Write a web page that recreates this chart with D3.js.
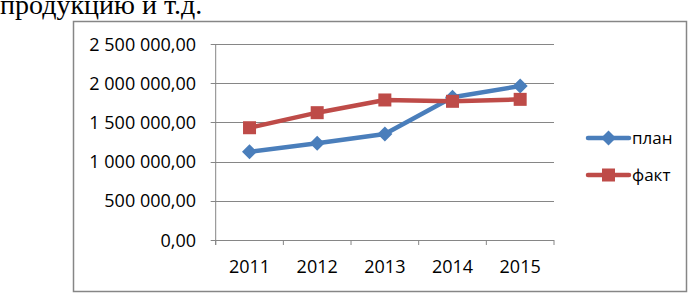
<!DOCTYPE html>
<html>
<head>
<meta charset="utf-8">
<script src="https://cdn.jsdelivr.net/npm/d3@7"></script>
<style>
  body { margin: 0; background: #fff; }
  svg { display: block; }
</style>
</head>
<body>
<div id="chart"></div>
<script>
const years = ["2011", "2012", "2013", "2014", "2015"];
const plan = [1126000, 1233000, 1352000, 1820000, 1964000];
const fact = [1432000, 1624000, 1786000, 1769000, 1794000];
const yTicks = [0, 500000, 1000000, 1500000, 2000000, 2500000];
const seriesNames = ["план", "факт"];

const W = 694, H = 293;
const plot = { left: 215.7, right: 554, top: 44, bottom: 240 };

const svg = d3.select("#chart").append("svg")
  .attr("width", W).attr("height", H);

// caption text above the chart (cut off at the top, like the scan)
svg.append("text")
  .attr("x", 0).attr("y", 14)
  .attr("font-family", "Liberation Serif, Times New Roman, serif")
  .attr("font-size", 28)
  .attr("fill", "#000")
  .text("продукцию и т.д.");

// chart frame
svg.append("rect")
  .attr("x", 73.5).attr("y", 21.5)
  .attr("width", 613).attr("height", 270)
  .attr("fill", "#fff")
  .attr("stroke", "#868686").attr("stroke-width", 1.5);

const x = d3.scaleBand(years, [plot.left, plot.right]);
const y = d3.scaleLinear([0, 2500000], [plot.bottom, plot.top]);

const fmt = (v) => {
  const s = d3.format(",.2f")(v);
  return s.replace(/,/g, " ").replace(".", ",");
};

// gridlines
svg.append("g")
  .selectAll("line")
  .data(yTicks)
  .join("line")
  .attr("x1", plot.left - 5).attr("x2", plot.right)
  .attr("y1", (d) => Math.round(y(d)) + 0.5)
  .attr("y2", (d) => Math.round(y(d)) + 0.5)
  .attr("stroke", "#868686").attr("stroke-width", 1);

// y axis line
svg.append("line")
  .attr("x1", plot.left).attr("x2", plot.left)
  .attr("y1", plot.top).attr("y2", plot.bottom + 5)
  .attr("stroke", "#868686");

// x axis ticks
const xTicks = years.map((d) => x(d)).concat([plot.right]);
svg.append("g")
  .selectAll("line")
  .data(xTicks)
  .join("line")
  .attr("x1", (d) => d).attr("x2", (d) => d)
  .attr("y1", plot.bottom).attr("y2", plot.bottom + 5)
  .attr("stroke", "#868686");

const font = "Open Sans, sans-serif";

svg.append("g")
  .selectAll("text")
  .data(yTicks)
  .join("text")
  .attr("x", 196)
  .attr("y", (d) => y(d) + 6.5)
  .attr("text-anchor", "end")
  .attr("font-family", font)
  .attr("font-size", 18)
  .attr("fill", "#000")
  .text(fmt);

svg.append("g")
  .selectAll("text")
  .data(years)
  .join("text")
  .attr("x", (d) => x(d) + x.bandwidth() / 2)
  .attr("y", 273)
  .attr("text-anchor", "middle")
  .attr("font-family", font)
  .attr("font-size", 18)
  .attr("fill", "#000")
  .text((d) => d);

const colors = ["#4A7EBB", "#BE4B48"];
const series = [plan, fact];
const line = d3.line()
  .x((d, i) => x(years[i]) + x.bandwidth() / 2)
  .y((d) => y(d));

function marker(g, type, cx, cy, color) {
  if (type === 0) {
    const r = 7.5;
    g.append("path")
      .attr("d", `M${cx},${cy - r}L${cx + r},${cy}L${cx},${cy + r}L${cx - r},${cy}Z`)
      .attr("fill", color);
  } else {
    const s = 13;
    g.append("rect")
      .attr("x", cx - s / 2).attr("y", cy - s / 2)
      .attr("width", s).attr("height", s)
      .attr("fill", color);
  }
}

series.forEach((vals, k) => {
  const g = svg.append("g");
  g.append("path")
    .datum(vals)
    .attr("d", line)
    .attr("fill", "none")
    .attr("stroke", colors[k])
    .attr("stroke-width", 4.5)
    .attr("stroke-linejoin", "round");
  vals.forEach((v, i) => marker(g, k, x(years[i]) + x.bandwidth() / 2, y(v), colors[k]));
});

// legend
const legendY = [138, 175];
seriesNames.forEach((name, k) => {
  const g = svg.append("g");
  g.append("line")
    .attr("x1", 588).attr("x2", 629)
    .attr("y1", legendY[k]).attr("y2", legendY[k])
    .attr("stroke", colors[k]).attr("stroke-width", 4.5)
    .attr("stroke-linecap", "round");
  marker(g, k, 608.5, legendY[k], colors[k]);
  g.append("text")
    .attr("x", 632).attr("y", legendY[k] + 6)
    .attr("font-family", font)
    .attr("font-size", 17)
    .attr("fill", "#000")
    .text(name);
});
</script>
</body>
</html>
